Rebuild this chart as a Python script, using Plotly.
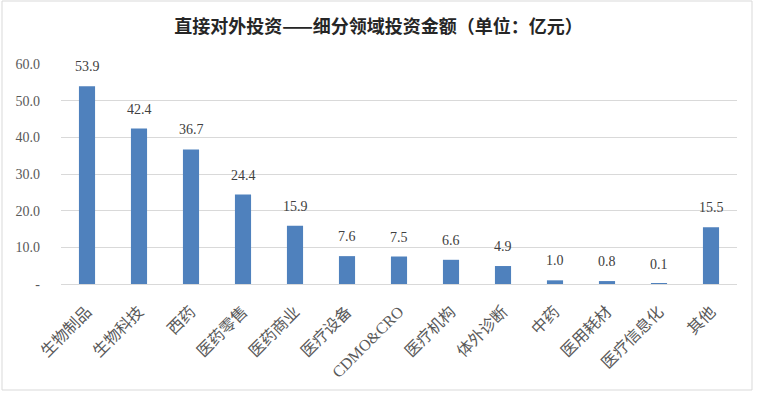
import plotly.graph_objects as go

categories = ["生物制品", "生物科技", "西药", "医药零售", "医药商业", "医疗设备", "CDMO&CRO",
              "医疗机构", "体外诊断", "中药", "医用耗材", "医疗信息化", "其他"]
values = [53.9, 42.4, 36.7, 24.4, 15.9, 7.6, 7.5, 6.6, 4.9, 1.0, 0.8, 0.1, 15.5]
ytick_vals = [0, 10, 20, 30, 40, 50, 60]
ytick_text = ["-", "10.0", "20.0", "30.0", "40.0", "50.0", "60.0"]
title = "直接对外投资——细分领域投资金额（单位：亿元）"

W, H = 757, 393
ml, mr, mt, mb = 61, 20, 64, 109

serif = "Liberation Serif, Noto Sans CJK SC, serif"

fig = go.Figure(go.Bar(
    x=categories, y=values,
    marker=dict(color="#4f81bd", line=dict(width=0)),
    width=0.31,
    cliponaxis=False,
    hoverinfo="skip",
))

for c, v in zip(categories, values):
    fig.add_annotation(x=c, y=v, text=f"{v:.1f}", showarrow=False, yanchor="bottom",
                       yshift=10, font=dict(family=serif, size=14, color="#404040"))

pw, ph = W - ml - mr, H - mt - mb
fig.add_shape(type="rect", xref="paper", yref="paper",
              x0=-(ml - 2) / pw, x1=(pw + mr - 5) / pw,
              y0=-(mb - 3) / ph, y1=(ph + mt - 1) / ph,
              line=dict(color="#d9d9d9", width=1), fillcolor="rgba(0,0,0,0)", layer="below")

fig.update_layout(
    width=W, height=H,
    margin=dict(l=ml, r=mr, t=mt, b=mb),
    paper_bgcolor="white", plot_bgcolor="white",
    title=dict(text=f"<b>{title}</b>", x=0.5, xanchor="center", y=1 - 27 / H, yanchor="middle",
               font=dict(family="Noto Sans CJK SC, serif", size=18, color="#262626")),
    showlegend=False,
    xaxis=dict(tickangle=-45, tickfont=dict(family=serif, size=16, color="#595959"),
               showline=True, linecolor="#d9d9d9", linewidth=1, ticks="", showgrid=False,
               ticklabelstandoff=11, automargin=False),
    yaxis=dict(range=[0, 60], tickvals=ytick_vals, ticktext=ytick_text,
               tickfont=dict(family=serif, size=14, color="#595959"),
               showgrid=True, gridcolor="#d9d9d9", gridwidth=1, zeroline=False,
               showline=False, ticks="", ticklabelstandoff=20, automargin=False),
    bargap=0.69,
)

fig.write_html("out.html", config={"displayModeBar": False},
               post_script="document.body.style.margin='0';document.body.style.padding='0';")
